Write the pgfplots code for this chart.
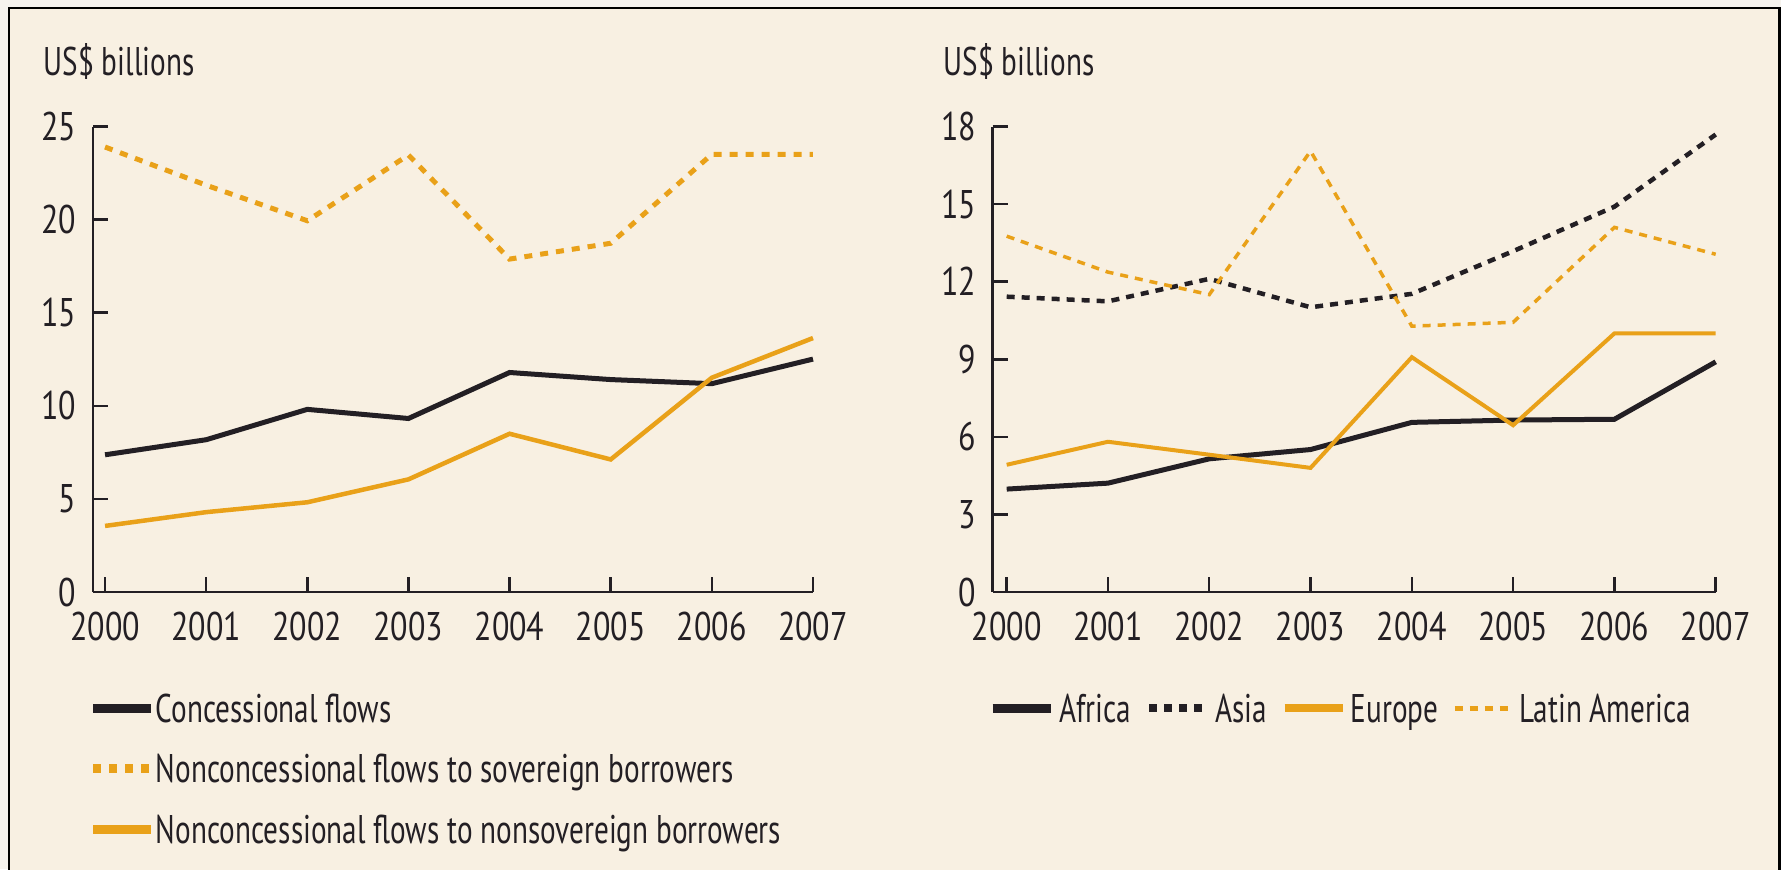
\documentclass[border=0pt]{standalone}
\usepackage{fontspec}
\setmainfont{PT Sans}[FakeStretch=0.73]
\newfontfamily\tickfont{PT Sans}[FakeStretch=0.8]
\usepackage{pgfplots}
\pgfplotsset{compat=1.18}
\definecolor{bg}{RGB}{248,240,226}
\definecolor{outer}{RGB}{246,243,238}
\definecolor{org}{RGB}{233,161,25}
\definecolor{blk}{RGB}{35,31,36}
\newcommand\F{\fontsize{12}{14}\selectfont}
\pgfplotsset{
  base/.style={
    scale only axis, height=139.65pt,
    axis lines*=left, axis line style={blk, line width=0.75pt},
    tick align=inside, major tick length=4.5pt, tick style={blk, line width=0.75pt},
    ymin=0, xmax=2007,
    xtick={2000,...,2007},
    /pgf/number format/assume math mode=true,
    /pgf/number format/1000 sep={},
    tick label style={font=\tickfont\F, text=blk},
    xticklabel style={yshift=-2.4pt},
    yticklabel style={xshift=-1.5pt},
    clip=false,
    legend style={draw=none, fill=none, font=\F, text=blk, inner sep=0pt, outer sep=0pt,
      nodes={inner sep=0pt}, cells={anchor=base west}, row sep=8.15pt},
    legend image code/.code={\draw[##1] (0pt,4.2pt) -- (17.4pt,4.2pt);},
  }
}
\begin{document}
\begin{tikzpicture}
\path[use as bounding box] (0,0) rectangle (534.3pt,-260.7pt);
\begin{scope}[x=0.3pt,y=-0.3pt]
\fill[outer] (0,0) rectangle (1781,869);
\fill[bg] (9,8) rectangle (1781,880);
\draw[black, line width=0.75pt] (9,880) -- (9,8) -- (1779.5,8) -- (1779.5,880);
\node[anchor=base west, font=\F, text=blk, inner sep=0pt] at (43,75) {US\$ billions};
\node[anchor=base west, font=\F, text=blk, inner sep=0pt] at (943,75) {US\$ billions};
\end{scope}

\begin{axis}[base, at={(27.9pt,-177.6pt)}, anchor=south west, width=216pt,
  xmin=1999.881, ymax=25, ytick={0,5,...,25},
  legend style={at={(-0.0056,-0.2183)}, anchor=north west,
    /tikz/every even column/.append style={column sep=2.1pt}}]
\addplot[blk, line width=1.5pt, legend image post style={line width=2.7pt}] coordinates
 {(2000,7.37) (2001,8.18) (2002,9.81) (2003,9.32) (2004,11.79) (2005,11.41) (2006,11.19) (2007,12.51)};
\addlegendentry{Concessional flows}
\addplot[org, line width=1.5pt, dash pattern=on 2.4pt off 2.4pt, legend image post style={line width=2.7pt}] coordinates
 {(2000,23.9) (2001,21.85) (2002,19.94) (2003,23.47) (2004,17.88) (2005,18.73) (2006,23.51) (2007,23.51)};
\addlegendentry{Nonconcessional flows to sovereign borrowers}
\addplot[org, line width=1.35pt, legend image post style={line width=2.7pt}] coordinates
 {(2000,3.55) (2001,4.29) (2002,4.82) (2003,6.05) (2004,8.5) (2005,7.12) (2006,11.51) (2007,13.64)};
\addlegendentry{Nonconcessional flows to nonsovereign borrowers}
\end{axis}

\begin{axis}[base, at={(297.81pt,-177.6pt)}, anchor=south west, width=216.9pt,
  xmin=1999.862, ymax=18, ytick={0,3,...,18},
  legend columns=4,
  legend style={at={(-0.0062,-0.2183)}, anchor=north west,
    /tikz/every odd column/.append style={column sep=1.2pt},
    /tikz/every even column/.append style={column sep=4.2pt}}]
\addplot[blk, line width=1.5pt, legend image post style={line width=2.7pt}] coordinates
 {(2000,3.98) (2001,4.21) (2002,5.15) (2003,5.51) (2004,6.56) (2005,6.65) (2006,6.68) (2007,8.9)};
\addlegendentry{Africa}
\addplot[blk, line width=1.35pt, dash pattern=on 2.4pt off 2.1pt, legend image post style={line width=2.4pt}] coordinates
 {(2000,11.42) (2001,11.24) (2002,12.11) (2003,11.01) (2004,11.53) (2005,13.18) (2006,14.9) (2007,17.69)};
\addlegendentry{Asia}
\addplot[org, line width=1.2pt, legend image post style={line width=2.4pt}] coordinates
 {(2000,4.92) (2001,5.81) (2002,5.31) (2003,4.8) (2004,9.08) (2005,6.45) (2006,10.0) (2007,10.0)};
\addlegendentry{Europe}
\addplot[org, line width=1.05pt, dash pattern=on 2.4pt off 2.1pt, legend image post style={line width=1.5pt}] coordinates
 {(2000,13.76) (2001,12.37) (2002,11.5) (2003,17.05) (2004,10.28) (2005,10.43) (2006,14.1) (2007,13.06)};
\addlegendentry{Latin America}
\end{axis}
\end{tikzpicture}
\end{document}
